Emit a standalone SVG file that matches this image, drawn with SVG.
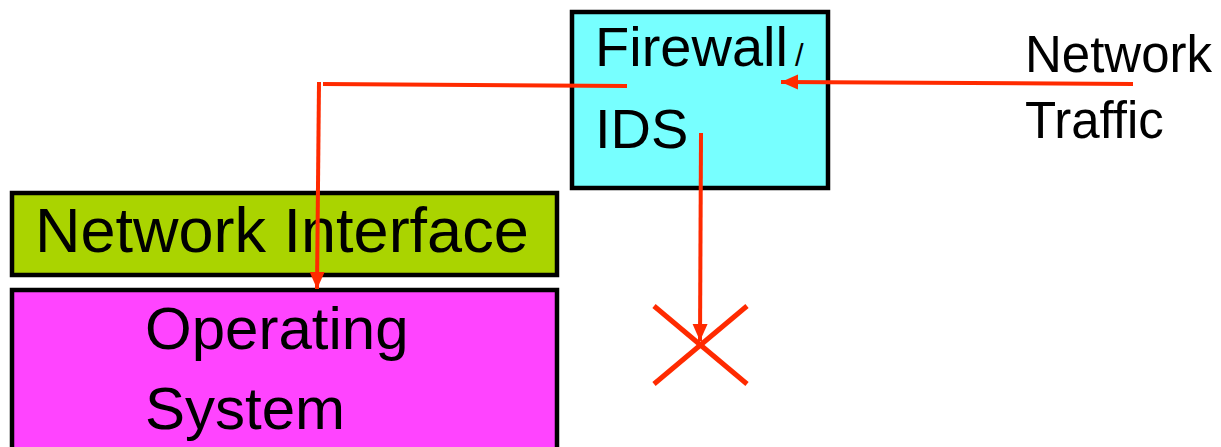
<svg xmlns="http://www.w3.org/2000/svg" width="1221" height="447" viewBox="0 0 1221 447">
<style>
.box{stroke:#000;stroke-width:4.5}
.t{font-family:"Liberation Sans",Arial,sans-serif;fill:#000}
.c{stroke:#FF2A00;stroke-width:4;fill:none}
.x{stroke:#FF2A00;stroke-width:5;fill:none}
</style>
<defs>
<marker id="ah" markerUnits="userSpaceOnUse" markerWidth="18" markerHeight="18" viewBox="0 0 18 18" refX="17" refY="9" orient="auto">
<path d="M0,1.5 L17,9 L0,16.5 Z" fill="#FF2A00"/>
</marker>
</defs>
<g id="firewall">
<rect class="box" x="572" y="12" width="256" height="176" fill="#77FFFF"/>
<text class="t" x="595" y="66" font-size="56">Firewall</text>
<text class="t" x="795" y="66" font-size="31">/</text>
<text class="t" x="595" y="148" font-size="56">IDS</text>
</g>
<g id="network-interface">
<rect class="box" x="12" y="193" width="545" height="82" fill="#AAD400"/>
<text class="t" x="35" y="252" font-size="63">Network Interface</text>
</g>
<g id="operating-system">
<rect class="box" x="12" y="290" width="545" height="170" fill="#FF44FF"/>
<text class="t" x="145" y="349" font-size="60">Operating</text>
<text class="t" x="145" y="429" font-size="60">System</text>
</g>
<g id="network-traffic">
<text class="t" x="1025" y="72" font-size="51">Network</text>
<text class="t" x="1025" y="138" font-size="51">Traffic</text>
</g>
<g id="blocked">
<line class="x" x1="654" y1="306" x2="747" y2="384"/>
<line class="x" x1="747" y1="306" x2="654" y2="384"/>
</g>
<g id="connectors">
<line class="c" x1="1133" y1="84" x2="781" y2="82" marker-end="url(#ah)"/>
<line class="c" x1="627" y1="86" x2="323" y2="84"/>
<line class="c" x1="319" y1="82" x2="317" y2="289" marker-end="url(#ah)"/>
<line class="c" x1="701" y1="133" x2="700" y2="341" marker-end="url(#ah)"/>
</g>
</svg>
